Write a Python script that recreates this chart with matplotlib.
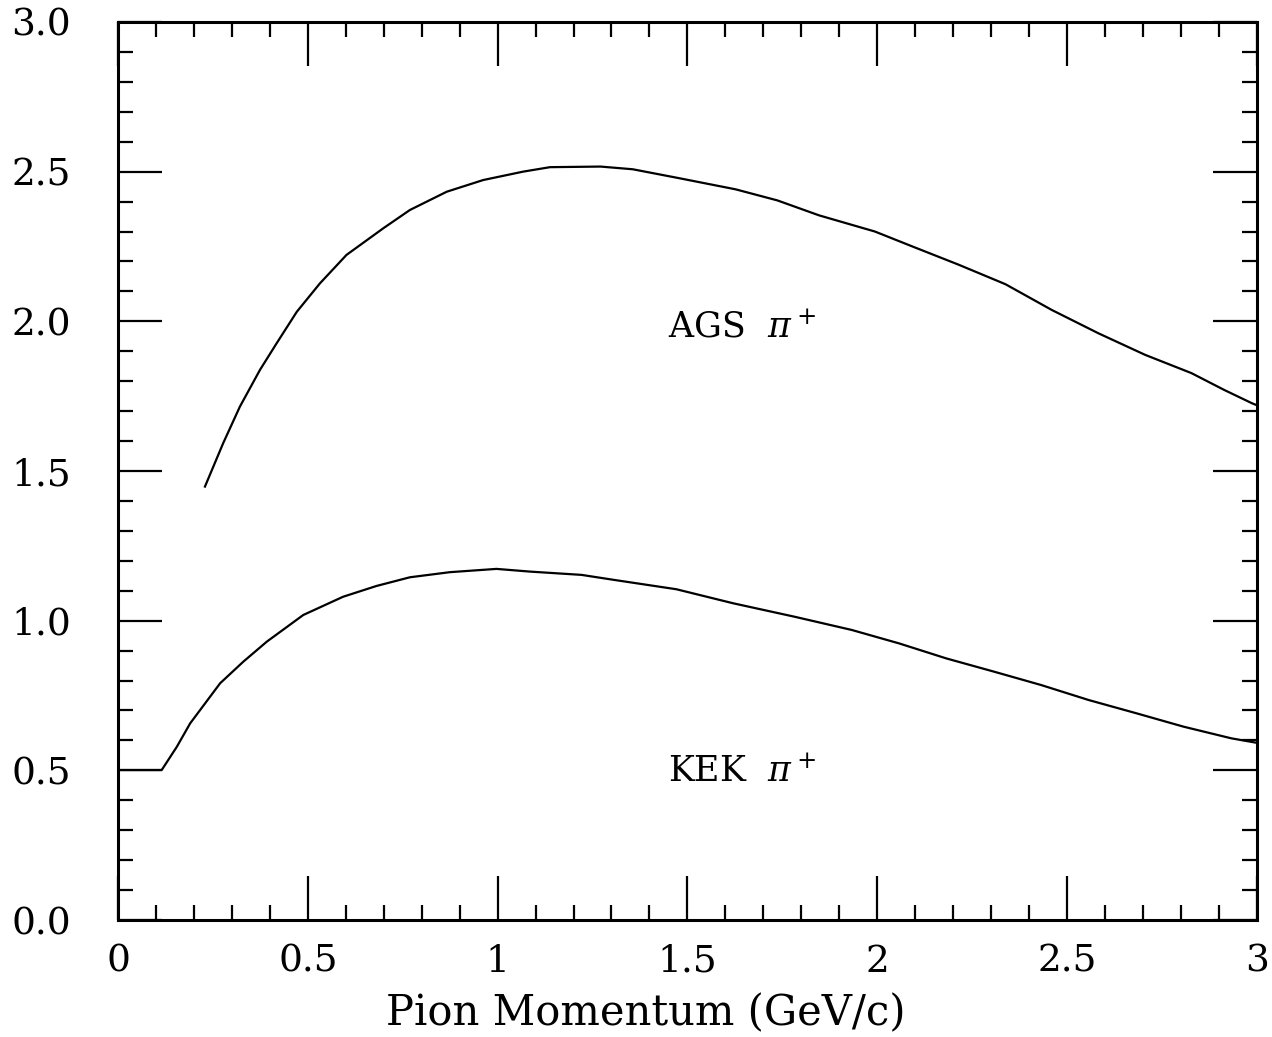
import numpy as np
import matplotlib.pyplot as plt
from matplotlib.ticker import MultipleLocator, FixedFormatter, FixedLocator

plt.rcParams['font.family'] = ['DejaVu Serif']
plt.rcParams['mathtext.fontset'] = 'dejavuserif'

# AGS pi+ curve
ags_p = [0.229, 0.277, 0.321, 0.374, 0.418, 0.471, 0.532, 0.602, 0.699, 0.769,
         0.866, 0.962, 1.067, 1.138, 1.271, 1.356, 1.479, 1.627, 1.737, 1.847,
         1.994, 2.093, 2.215, 2.338, 2.460, 2.583, 2.706, 2.828, 2.914, 2.988, 3.0]
ags_v = [1.448, 1.593, 1.715, 1.838, 1.927, 2.032, 2.127, 2.222, 2.311, 2.372,
         2.433, 2.472, 2.500, 2.515, 2.517, 2.508, 2.478, 2.441, 2.404, 2.354,
         2.300, 2.250, 2.189, 2.124, 2.038, 1.960, 1.888, 1.827, 1.771, 1.726, 1.72]

# KEK pi+ curve
kek_p = [0.0, 0.115, 0.155, 0.190, 0.269, 0.330, 0.392, 0.488, 0.593, 0.681,
         0.769, 0.874, 0.997, 1.085, 1.221, 1.308, 1.471, 1.621, 1.783, 1.933,
         2.058, 2.182, 2.307, 2.432, 2.557, 2.682, 2.807, 2.933, 3.0]
kek_v = [0.501, 0.501, 0.579, 0.657, 0.791, 0.863, 0.930, 1.019, 1.080, 1.116,
         1.145, 1.162, 1.173, 1.164, 1.153, 1.136, 1.105, 1.058, 1.013, 0.969,
         0.924, 0.874, 0.830, 0.785, 0.735, 0.691, 0.646, 0.607, 0.592]

x_ticks = [0, 0.5, 1, 1.5, 2, 2.5, 3]
x_labels = ['0', '0.5', '1', '1.5', '2', '2.5', '3']
y_ticks = [0.0, 0.5, 1.0, 1.5, 2.0, 2.5, 3.0]
y_labels = ['0.0', '0.5', '1.0', '1.5', '2.0', '2.5', '3.0']

fig = plt.figure(figsize=(12.72, 10.37), dpi=100)
ax = fig.add_axes([0.0928, 0.1128, 0.8952, 0.866])

ax.plot(ags_p, ags_v, color='black', lw=1.6)
ax.plot(kek_p, kek_v, color='black', lw=1.6)

ax.text(1.449, 1.978, r'AGS  $\pi^+$', fontsize=25, va='center', ha='left')
ax.text(1.449, 0.494, r'KEK  $\pi^+$', fontsize=25, va='center', ha='left')

ax.set_xlim(0, 3)
ax.set_ylim(0, 3)
ax.xaxis.set_major_locator(FixedLocator(x_ticks))
ax.xaxis.set_major_formatter(FixedFormatter(x_labels))
ax.yaxis.set_major_locator(FixedLocator(y_ticks))
ax.yaxis.set_major_formatter(FixedFormatter(y_labels))
ax.xaxis.set_minor_locator(MultipleLocator(0.1))
ax.yaxis.set_minor_locator(MultipleLocator(0.1))

ax.tick_params(which='both', direction='in', top=True, right=True, width=1.6,
               labelsize=27, colors='black')
ax.tick_params(which='major', length=32)
ax.tick_params(which='minor', length=11)
ax.tick_params(axis='x', pad=17)
ax.tick_params(axis='y', pad=34)
for s in ax.spines.values():
    s.set_linewidth(2.2)

ax.set_xlabel('Pion Momentum (GeV/c)', fontsize=30)
ax.xaxis.set_label_coords(0.4636, -0.08)

fig.savefig('out.png', dpi=100)
